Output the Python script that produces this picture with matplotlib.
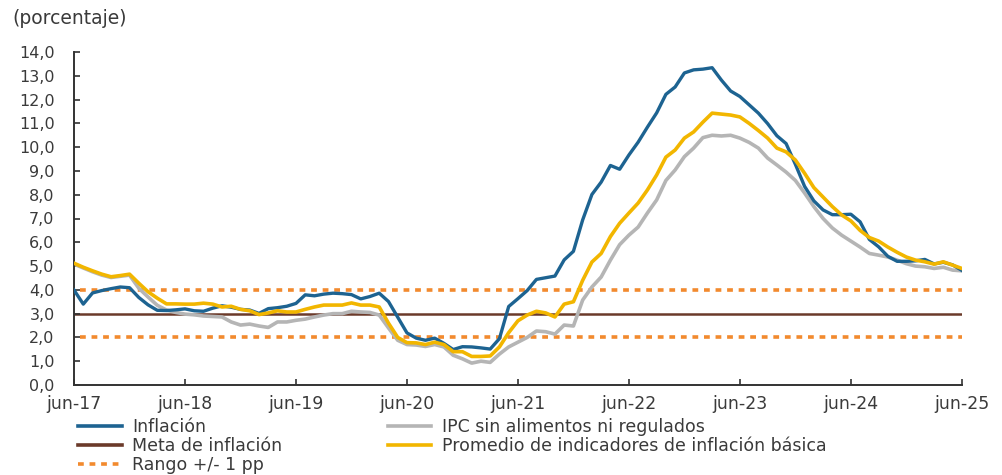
import numpy as np
import matplotlib.pyplot as plt
from matplotlib.lines import Line2D

plt.rcParams['font.family'] = ['DejaVu Sans']

# monthly values, jun-17 .. jun-25 (97 months)
inflacion = [
    3.99, 3.40, 3.87, 3.97, 4.05, 4.12, 4.09,
    3.68, 3.37, 3.14, 3.13, 3.16, 3.20, 3.12, 3.10, 3.23, 3.33, 3.27, 3.18,
    3.15, 3.01, 3.21, 3.25, 3.31, 3.43, 3.79, 3.75, 3.82, 3.86, 3.84, 3.80,
    3.62, 3.72, 3.86, 3.51, 2.85, 2.19, 1.97, 1.88, 1.97, 1.75, 1.49, 1.61,
    1.60, 1.56, 1.51, 1.95, 3.30, 3.63, 3.97, 4.44, 4.51, 4.58, 5.26, 5.62,
    6.94, 8.01, 8.53, 9.23, 9.07, 9.67, 10.21, 10.84, 11.44, 12.22, 12.53, 13.12,
    13.25, 13.28, 13.34, 12.82, 12.36, 12.13, 11.78, 11.43, 10.99, 10.48, 10.15, 9.28,
    8.35, 7.74, 7.36, 7.16, 7.16, 7.18, 6.86, 6.12, 5.81, 5.41, 5.20, 5.20,
    5.22, 5.28, 5.09, 5.16, 5.05, 4.82,
]
sin_alim_reg = [
    5.08, 4.92, 4.76, 4.62, 4.52, 4.57, 4.62,
    4.07, 3.70, 3.35, 3.15, 3.05, 2.98, 2.95, 2.90, 2.88, 2.86, 2.65, 2.52,
    2.56, 2.48, 2.42, 2.65, 2.65, 2.72, 2.77, 2.86, 2.94, 3.00, 3.00, 3.10,
    3.07, 3.05, 2.94, 2.40, 1.88, 1.70, 1.68, 1.62, 1.70, 1.60, 1.25, 1.10,
    0.92, 1.00, 0.95, 1.30, 1.60, 1.80, 2.00, 2.27, 2.24, 2.14, 2.52, 2.48,
    3.57, 4.12, 4.54, 5.25, 5.90, 6.30, 6.64, 7.23, 7.78, 8.60, 9.04, 9.60,
    9.96, 10.40, 10.50, 10.47, 10.50, 10.38, 10.20, 9.96, 9.54, 9.25, 8.95, 8.60,
    8.07, 7.50, 7.00, 6.60, 6.30, 6.05, 5.80, 5.53, 5.46, 5.38, 5.25, 5.10,
    5.00, 4.97, 4.90, 4.95, 4.83, 4.80,
]
promedio_basica = [
    5.12, 4.95, 4.80, 4.66, 4.55, 4.60, 4.66,
    4.28, 3.92, 3.65, 3.41, 3.41, 3.40, 3.40, 3.44, 3.40, 3.28, 3.31, 3.18,
    3.12, 2.96, 3.03, 3.12, 3.07, 3.07, 3.18, 3.28, 3.36, 3.36, 3.36, 3.45,
    3.36, 3.36, 3.28, 2.60, 2.00, 1.78, 1.77, 1.70, 1.80, 1.70, 1.40, 1.40,
    1.20, 1.20, 1.22, 1.60, 2.20, 2.70, 2.94, 3.10, 3.03, 2.86, 3.40, 3.50,
    4.40, 5.17, 5.53, 6.24, 6.80, 7.23, 7.65, 8.20, 8.83, 9.58, 9.88, 10.38,
    10.64, 11.05, 11.43, 11.39, 11.35, 11.27, 11.00, 10.70, 10.38, 9.96, 9.80, 9.46,
    8.90, 8.30, 7.90, 7.50, 7.15, 6.90, 6.50, 6.20, 6.05, 5.80, 5.58, 5.38,
    5.25, 5.18, 5.08, 5.18, 5.04, 4.90,
]
meta = 3.0
rango = [2.0, 4.0]
tick_labels = ['jun-17', 'jun-18', 'jun-19', 'jun-20', 'jun-21',
               'jun-22', 'jun-23', 'jun-24', 'jun-25']

x = np.arange(len(inflacion))

fig = plt.figure(figsize=(10.02, 4.75), dpi=100)
ax = fig.add_axes([0.0739, 0.1895, 0.886, 0.701])

c_blue = '#1d6391'
c_gray = '#b5b5b5'
c_yel = '#f2b600'
c_brown = '#6b3a2a'
c_orange = '#f28a2e'
c_text = '#3a3a3a'

# reference lines
ax.axhline(meta, color=c_brown, lw=1.8, zorder=1)
for r in rango:
    ax.plot([0.6, x[-1]], [r, r], color=c_orange, lw=2.6,
            linestyle=(0, (1.6, 1.6)), zorder=1)

ax.plot(x, sin_alim_reg, color=c_gray, lw=2.6, zorder=2)
ax.plot(x, inflacion, color=c_blue, lw=2.4, zorder=3)
ax.plot(x, promedio_basica, color=c_yel, lw=2.6, zorder=4)

ax.set_xlim(0, x[-1])
ax.set_ylim(0, 14)
ax.set_yticks(np.arange(0, 15, 1))
ax.set_yticklabels([f'{v:.1f}'.replace('.', ',') for v in np.arange(0, 15, 1)])
ax.set_xticks(np.arange(0, len(x), 12))
ax.set_xticklabels(tick_labels)

for s in ['top', 'right']:
    ax.spines[s].set_visible(False)
for s in ['left', 'bottom']:
    ax.spines[s].set_color('#333333')
    ax.spines[s].set_linewidth(1.4)
ax.tick_params(axis='both', direction='in', length=4, width=1.2,
               color='#333333', labelcolor=c_text)
ax.tick_params(axis='y', pad=14, labelsize=11.5)
ax.tick_params(axis='x', pad=7, labelsize=12.5)

fig.text(0.012, 0.962, '(porcentaje)', fontsize=13.5, color=c_text,
         va='center', ha='left')

handles = [
    Line2D([], [], color=c_blue, lw=2.6),
    Line2D([], [], color=c_brown, lw=2.6),
    Line2D([], [], color=c_orange, lw=2.6, linestyle=(0, (1.6, 1.6))),
    Line2D([], [], color=c_gray, lw=2.6),
    Line2D([], [], color=c_yel, lw=2.6),
]
labels = ['Inflación', 'Meta de inflación', 'Rango +/- 1 pp',
          'IPC sin alimentos ni regulados',
          'Promedio de indicadores de inflación básica']
fig.legend(handles, labels, ncol=2, loc='upper left',
           bbox_to_anchor=(0.078, 0.12), frameon=False, fontsize=12.5,
           handlelength=2.5, handletextpad=0.6, columnspacing=6.1,
           labelspacing=0.05, borderaxespad=0, borderpad=0,
           labelcolor=c_text)

fig.savefig('out.png', dpi=100)
